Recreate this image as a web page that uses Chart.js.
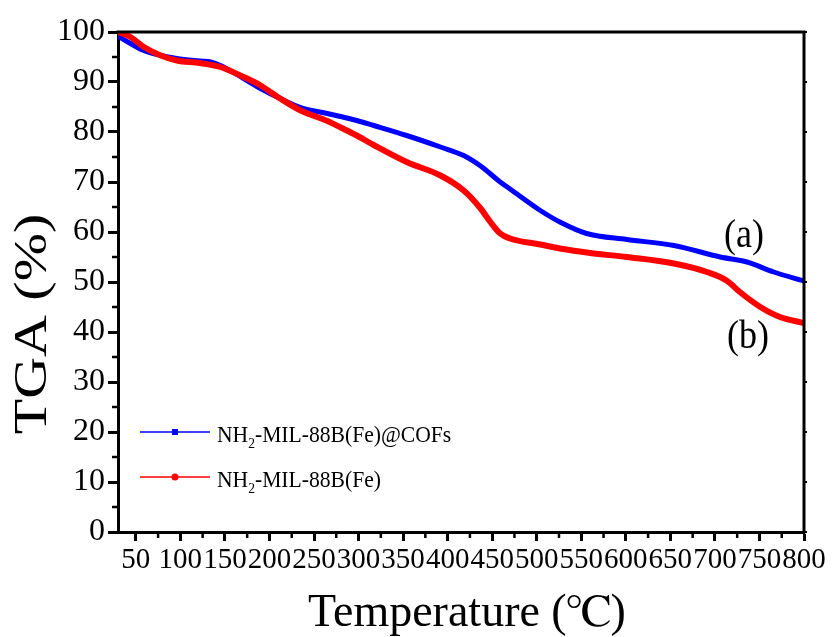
<!DOCTYPE html>
<html>
<head>
<meta charset="utf-8">
<script src="https://cdn.jsdelivr.net/npm/chart.js@4.4.1/dist/chart.umd.min.js"></script>
<style>
  html, body { margin: 0; padding: 0; background: #fff; }
  #wrap { width: 836px; height: 637px; }
</style>
</head>
<body>
<div id="wrap"><canvas id="tga" width="836" height="637"></canvas></div>
<script>
// (a) NH2-MIL-88B(Fe)@COFs
const tempsA = [30, 44, 59, 78, 96, 122, 134, 145, 171, 190, 212, 235, 265, 280, 298, 317, 354, 392, 418, 437, 459, 470, 504, 526, 556, 601, 654, 706, 736, 766, 800];
const tgaA = [99.2, 97.7, 96.3, 95.3, 94.7, 94.2, 94.0, 93.3, 90.7, 88.7, 86.7, 84.9, 83.7, 83.1, 82.3, 81.3, 79.3, 77.0, 75.3, 73.2, 70.0, 68.6, 64.3, 62.0, 59.7, 58.5, 57.3, 55.0, 54.0, 52.0, 50.2];
// (b) NH2-MIL-88B(Fe)
const tempsB = [30, 44, 59, 78, 96, 122, 145, 171, 190, 212, 235, 265, 280, 298, 317, 354, 392, 418, 437, 448, 459, 470, 504, 526, 560, 601, 654, 691, 713, 728, 751, 773, 800];
const tgaB = [100, 99.0, 97.0, 95.3, 94.3, 93.8, 93.0, 91.0, 89.3, 86.7, 84.3, 82.2, 80.9, 79.3, 77.4, 74.0, 71.3, 68.3, 64.7, 62.0, 59.7, 58.7, 57.5, 56.7, 55.8, 55.0, 53.7, 52.0, 50.3, 48.0, 45.0, 43.0, 41.8];

const seriesNames = ["NH2-MIL-88B(Fe)@COFs", "NH2-MIL-88B(Fe)"];
const xTicks = [50, 100, 150, 200, 250, 300, 350, 400, 450, 500, 550, 600, 650, 700, 750, 800];
const yTicks = [0, 10, 20, 30, 40, 50, 60, 70, 80, 90, 100];

const serif = "'Liberation Serif', FreeSerif, serif";

function toPoints(xs, ys) {
  return xs.map((x, i) => ({ x: x, y: ys[i] }));
}

// text with horizontal squeeze / stretch
function drawText(ctx, text, x, y, size, sx, align) {
  ctx.save();
  ctx.font = size + "px " + serif;
  ctx.textAlign = align || "left";
  ctx.textBaseline = "alphabetic";
  ctx.translate(x, y);
  ctx.scale(sx, 1);
  ctx.fillText(text, 0, 0);
  ctx.restore();
}

// legend label with subscript 2 after NH
function drawFormula(ctx, text, x, y) {
  const sx = 0.9;
  ctx.save();
  ctx.translate(x, y);
  ctx.scale(sx, 1);
  ctx.fillStyle = "#000";
  ctx.font = "24px " + serif;
  ctx.fillText("NH", 0, 0);
  let w = ctx.measureText("NH").width;
  ctx.font = "15px " + serif;
  ctx.fillText("2", w, 6);
  w += ctx.measureText("2").width;
  ctx.font = "24px " + serif;
  ctx.fillText(text.slice(3), w, 0);
  ctx.restore();
}

const framePlugin = {
  id: "frame",
  afterDraw(chart) {
    const ctx = chart.ctx;
    const a = chart.chartArea;
    const xs = chart.scales.x;
    const ys = chart.scales.y;

    ctx.save();
    ctx.strokeStyle = "#000";
    ctx.lineWidth = 3;
    // top and right border
    ctx.beginPath();
    ctx.moveTo(a.left - 1.5, a.top);
    ctx.lineTo(a.right, a.top);
    ctx.lineTo(a.right, a.bottom + 1.5);
    ctx.stroke();

    // minor ticks
    ctx.lineWidth = 2.5;
    ctx.beginPath();
    for (let v = 5; v < 100; v += 10) {
      const py = ys.getPixelForValue(v);
      ctx.moveTo(a.left - 6, py);
      ctx.lineTo(a.left, py);
    }
    for (let v = 75; v < 800; v += 50) {
      const px = xs.getPixelForValue(v);
      ctx.moveTo(px, a.bottom);
      ctx.lineTo(px, a.bottom + 6);
    }
    ctx.stroke();

    // small ticks on right axis
    ctx.lineWidth = 2;
    ctx.beginPath();
    yTicks.forEach((v) => {
      const py = ys.getPixelForValue(v);
      ctx.moveTo(a.right, py);
      ctx.lineTo(a.right + 3, py);
    });
    ctx.stroke();

    ctx.fillStyle = "#000";
    // axis titles
    drawText(ctx, "Temperature (\u2103)", 467, 626, 46, 1, "center");
    ctx.save();
    ctx.translate(46, 324);
    ctx.rotate(-Math.PI / 2);
    drawText(ctx, "TGA (%)", 0, 0, 46, 1.26, "center");
    ctx.restore();

    // curve labels
    drawText(ctx, "(a)", 744, 247, 40, 0.9, "center");
    drawText(ctx, "(b)", 748, 348, 40, 0.9, "center");

    // legend
    const colors = ["#0000ff", "#ff0000"];
    const rows = [432, 477];
    rows.forEach((ly, i) => {
      ctx.strokeStyle = colors[i];
      ctx.fillStyle = colors[i];
      ctx.lineWidth = 1.5;
      ctx.beginPath();
      ctx.moveTo(140, ly);
      ctx.lineTo(210, ly);
      ctx.stroke();
      if (i === 0) {
        ctx.fillRect(172, ly - 3, 6, 6);
      } else {
        ctx.beginPath();
        ctx.arc(175, ly, 3.5, 0, Math.PI * 2);
        ctx.fill();
      }
      drawFormula(ctx, seriesNames[i], 217, ly + 10);
    });
    ctx.restore();
  },
};

new Chart(document.getElementById("tga").getContext("2d"), {
  type: "line",
  data: {
    datasets: [
      {
        label: seriesNames[0],
        data: toPoints(tempsA, tgaA),
        borderColor: "#0000ff",
        borderWidth: 5,
        pointRadius: 0,
        cubicInterpolationMode: "monotone",
        order: 2,
      },
      {
        label: seriesNames[1],
        data: toPoints(tempsB, tgaB),
        borderColor: "#ff0000",
        borderWidth: 6,
        pointRadius: 0,
        cubicInterpolationMode: "monotone",
        order: 1,
      },
    ],
  },
  options: {
    responsive: false,
    animation: false,
    layout: { padding: { left: 0, top: 32, right: 32, bottom: 0 } },
    plugins: {
      legend: { display: false },
      tooltip: { enabled: false },
    },
    scales: {
      x: {
        type: "linear",
        min: 30,
        max: 800,
        afterBuildTicks: (s) => {
          s.ticks = xTicks.map((v) => ({ value: v }));
        },
        afterFit: (s) => {
          s.height = 105;
        },
        ticks: {
          autoSkip: false,
          maxRotation: 0,
          minRotation: 0,
          padding: 2,
          color: "#000",
          font: { family: serif, size: 29 },
        },
        grid: {
          drawOnChartArea: false,
          drawTicks: true,
          tickLength: 9,
          tickWidth: 3,
          tickColor: "#000",
        },
        border: { color: "#000", width: 3 },
      },
      y: {
        min: 0,
        max: 100,
        afterBuildTicks: (s) => {
          s.ticks = yTicks.map((v) => ({ value: v }));
        },
        afterFit: (s) => {
          s.width = 118;
        },
        ticks: {
          padding: 3,
          color: "#000",
          font: { family: serif, size: 32 },
        },
        grid: {
          drawOnChartArea: false,
          drawTicks: true,
          tickLength: 10,
          tickWidth: 3,
          tickColor: "#000",
        },
        border: { color: "#000", width: 3 },
      },
    },
  },
  plugins: [framePlugin],
});
</script>
</body>
</html>
